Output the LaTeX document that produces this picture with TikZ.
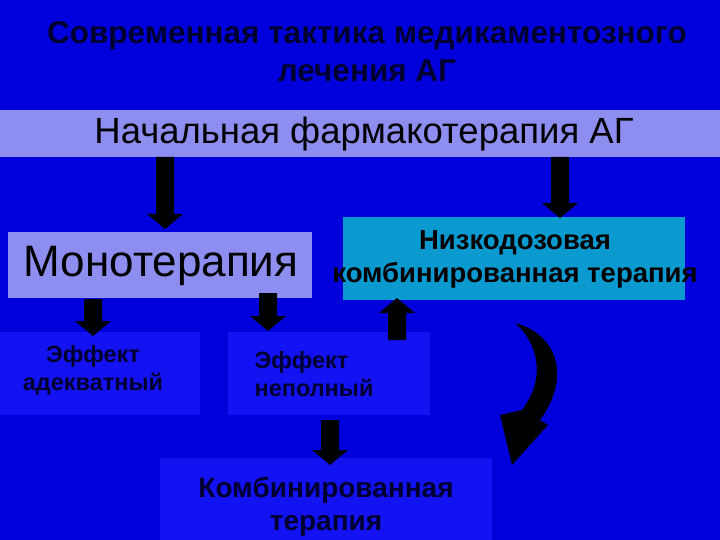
\documentclass[tikz,border=0pt]{standalone}
\usepackage{fontspec}
\setmainfont{Liberation Sans}
\definecolor{bg}{HTML}{0000DC}
\definecolor{lbox}{HTML}{1212F2}
\definecolor{lav}{HTML}{8E8EF0}
\definecolor{teal}{HTML}{0A9AD0}
\definecolor{dk}{HTML}{000030}
\newcommand\blockarr[4]{% name, x, y from, y to
 \coordinate (#1) at (#2,#3);
 \fill[black] (#2-9,#3) -- (#2+9,#3) -- (#2+9,{#4-((#4-#3)>0?15:-15)}) -- (#2+18,{#4-((#4-#3)>0?15:-15)}) -- (#2,#4) -- (#2-18,{#4-((#4-#3)>0?15:-15)}) -- (#2-9,{#4-((#4-#3)>0?15:-15)}) -- cycle;}
\tikzset{
 btxt/.style={text=dk, align=center, inner sep=0pt},
}
\begin{document}
\begin{tikzpicture}[x=1pt,y=-1pt]
\useasboundingbox (0,0) rectangle (720,540);
\fill[bg] (0,0) rectangle (720,540);
\node[btxt,font=\bfseries\fontsize{31.5}{38}\selectfont] (title) at (367,52) {Современная тактика медикаментозного\\лечения АГ};
\fill[lav] (0,110) rectangle (720,157);
\node[font=\fontsize{36.5}{40}\selectfont] (start) at (364,134) {Начальная фармакотерапия АГ};
\fill[lav] (8,232) rectangle (312,298);
\node[font=\fontsize{44}{48}\selectfont] (mono) at (161,266) {Монотерапия};
\fill[teal] (343,217) rectangle (685,300);
\node[btxt,font=\bfseries\fontsize{27.5}{33}\selectfont,text=black] (low) at (515,259) {Низкодозовая\\комбинированная терапия};
\fill[lbox] (0,332) rectangle (200,415);
\node[btxt,font=\bfseries\fontsize{23.5}{28}\selectfont] (e1) at (93,370) {Эффект\\адекватный};
\fill[lbox] (228,332) rectangle (430,415);
\node[btxt,font=\bfseries\fontsize{23.5}{28}\selectfont,align=left] (e2) at (314,374) {Эффект\\неполный};
\fill[lbox] (160,458) rectangle (492,540);
\node[btxt,font=\bfseries\fontsize{28}{33}\selectfont] (comb) at (326,507) {Комбинированная\\терапия};
\blockarr{a1}{165}{157}{229}
\blockarr{a2}{560}{157}{218}
\blockarr{a3}{93}{299}{336}
\blockarr{a4}{268}{293}{331}
\blockarr{a5}{397}{340}{298}
\blockarr{a6}{330}{420}{465}
\fill[black] (515,323) .. controls (560,335) and (570,380) .. (540,420)
  -- (548,425) -- (512,465) -- (500,415) -- (522,410)
  .. controls (545,380) and (540,345) .. (515,323) -- cycle;
\end{tikzpicture}
\end{document}
